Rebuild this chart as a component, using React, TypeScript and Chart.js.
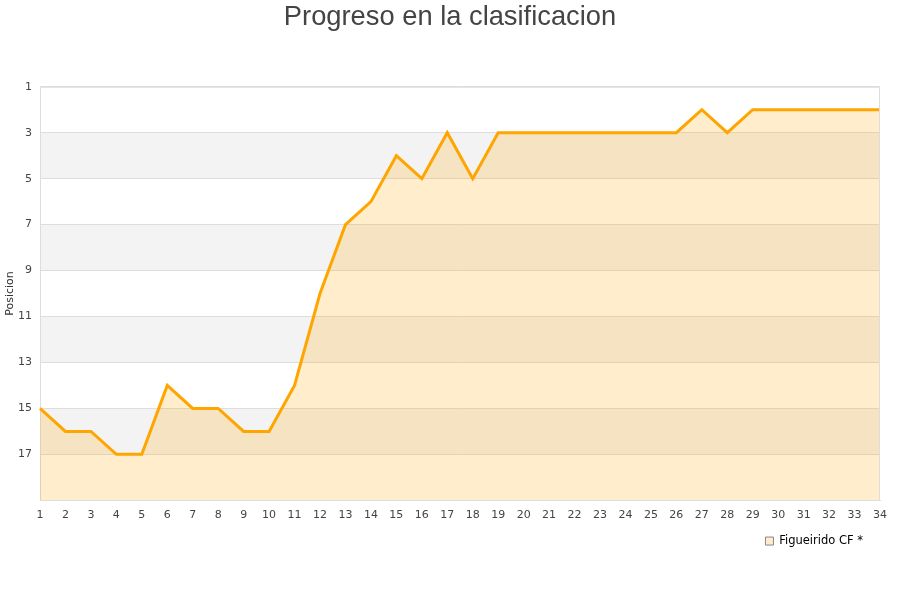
import React, { useEffect, useRef } from "react";
import { Chart, registerables } from "chart.js";

Chart.register(...registerables);

const jornadas: string[] = Array.from({ length: 34 }, (_, i) => String(i + 1));
const posiciones: number[] = [
  15, 16, 16, 17, 17, 14, 15, 15, 16, 16,
  14, 10, 7, 6, 4, 5, 3, 5, 3, 3,
  3, 3, 3, 3, 3, 3, 2, 3, 2, 2,
  2, 2, 2, 2,
];
const teamName = "Figueirido CF *";
const chartTitle = "Progreso en la clasificacion";
const yTitle = "Posicion";
const grayBands: [number, number][] = [
  [3, 5],
  [7, 9],
  [11, 13],
  [15, 17],
];

const bandsPlugin = {
  id: "bands",
  beforeDraw(chart: any) {
    const { ctx, chartArea, scales } = chart;
    const y = scales.y;
    ctx.save();
    ctx.fillStyle = "#f3f3f3";
    for (const [a, b] of grayBands) {
      const y1 = y.getPixelForValue(a);
      const y2 = y.getPixelForValue(b);
      ctx.fillRect(chartArea.left, Math.min(y1, y2), chartArea.right - chartArea.left, Math.abs(y2 - y1));
    }
    ctx.restore();
  },
};

const legendShift = {
  id: "legendShift",
  afterLayout(chart: any) {
    const lg = chart.legend;
    if (!lg) return;
    const dx = -7;
    const dy = -(lg.top - (chart.chartArea.bottom + 25));
    lg.left += dx;
    lg.right += dx;
    lg.top += dy;
    lg.bottom += dy;
  },
};

export default function App() {
  const ref = useRef<HTMLCanvasElement | null>(null);
  useEffect(() => {
    if (!ref.current) return;
    const chart = new Chart(ref.current, {
      type: "line",
      data: {
        labels: jornadas,
        datasets: [
          {
            label: teamName,
            data: posiciones,
            borderColor: "#ffa500",
            backgroundColor: "rgba(255,165,0,0.2)",
            borderWidth: 3,
            pointRadius: 0,
            tension: 0,
            fill: { value: 19 },
          },
        ],
      },
      options: {
        animation: false,
        responsive: false,
        maintainAspectRatio: false,
        layout: { padding: { left: 0, right: 0, top: 0, bottom: 39 } },
        plugins: {
          title: {
            display: true,
            text: chartTitle,
            color: "#444",
            font: { family: "'Liberation Sans', Arial, sans-serif", size: 27.3, weight: "normal" },
            padding: { top: 1, bottom: 53 },
          },
          legend: {
            position: "bottom",
            align: "end",
            fullSize: false,
            labels: {
              color: "#222",
              font: { family: "'DejaVu Sans', sans-serif", size: 11.5 },
              boxWidth: 8,
              boxHeight: 8,
              padding: 10,
              generateLabels: (c: any) =>
                c.data.datasets.map((d: any, i: number) => ({
                  text: d.label,
                  fillStyle: "#ffeccc",
                  strokeStyle: "#888",
                  lineWidth: 1,
                  datasetIndex: i,
                  hidden: false,
                })),
            },
          },
          tooltip: { enabled: false },
        },
        scales: {
          x: {
            grid: { display: false, drawTicks: false },
            border: { display: true, color: "#ddd" },
            ticks: {
              color: "#444",
              font: { family: "'DejaVu Sans', sans-serif", size: 11 },
              padding: 8,
              maxRotation: 0,
              autoSkip: false,
            },
          },
          y: {
            reverse: true,
            min: 1,
            max: 19,
            afterFit: (s: any) => {
              s.width = 40;
            },
            grid: { color: "#ddd", drawTicks: false },
            border: { display: true, color: "#ddd" },
            ticks: {
              stepSize: 2,
              color: "#444",
              font: { family: "'DejaVu Sans', sans-serif", size: 11 },
              padding: 8,
              callback: (v: any) => (v === 19 ? "" : String(v)),
            },
            title: {
              display: true,
              text: yTitle,
              color: "#333",
              font: { family: "'DejaVu Sans', sans-serif", size: 11 },
            },
          },
          yRight: {
            type: "linear",
            position: "right",
            display: true,
            min: 1,
            max: 19,
            afterFit: (s: any) => {
              s.width = 20;
            },
            grid: { display: false, drawTicks: false },
            border: { display: false },
            ticks: { display: false },
          },
        },
      },
      plugins: [
        bandsPlugin,
        legendShift,
        {
          id: "frame",
          afterDraw(c: any) {
            const { ctx, chartArea } = c;
            ctx.save();
            ctx.strokeStyle = "#ddd";
            ctx.lineWidth = 1;
            ctx.beginPath();
            ctx.moveTo(chartArea.left, chartArea.top + 0.5);
            ctx.lineTo(chartArea.right, chartArea.top + 0.5);
            ctx.moveTo(chartArea.right - 0.5, chartArea.top);
            ctx.lineTo(chartArea.right - 0.5, chartArea.bottom);
            ctx.stroke();
            ctx.restore();
          },
        },
      ],
    } as any);
    return () => chart.destroy();
  }, []);
  return (
    <div style={{ position: "absolute", left: 0, top: 0, width: 900, height: 600, background: "#fff" }}>
      <canvas ref={ref} width={900} height={600} style={{ width: 900, height: 600, display: "block" }} />
    </div>
  );
}
